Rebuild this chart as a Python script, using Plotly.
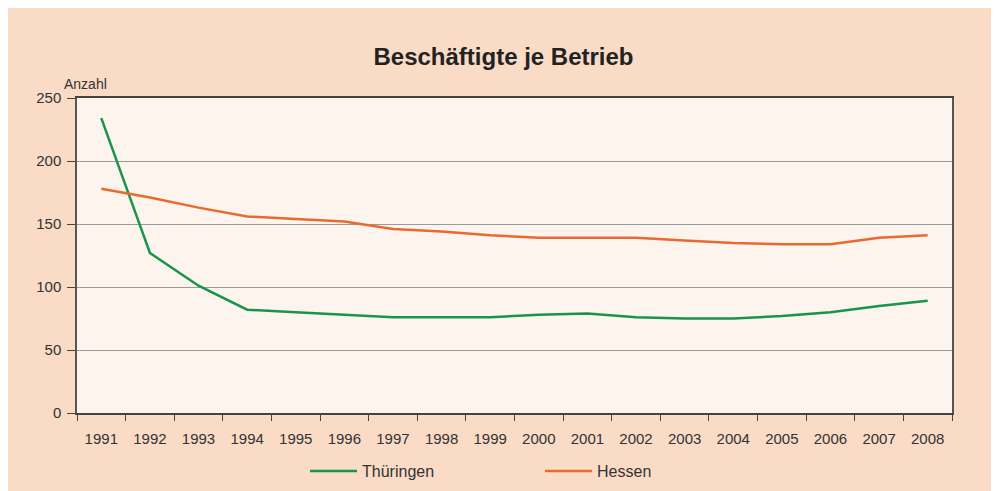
import plotly.graph_objects as go

# Beschäftigte je Betrieb, Thüringen vs. Hessen
years = [str(y) for y in range(1991, 2009)]
thueringen = [234, 127, 101, 82, 80, 78, 76, 76, 76, 78, 79, 76, 75, 75, 77, 80, 85, 89]
hessen = [178, 171, 163, 156, 154, 152, 146, 144, 141, 139, 139, 139, 137, 135, 134, 134, 139, 141]
y_ticks = [0, 50, 100, 150, 200, 250]

PEACH = "#f9dbc6"
PLOT_BG = "#fdf4ee"
GREEN = "#179548"
ORANGE = "#e9692e"

fig = go.Figure()
fig.add_trace(go.Scatter(x=years, y=thueringen, mode="lines", name="Thüringen",
                         line=dict(color=GREEN, width=2.5)))
fig.add_trace(go.Scatter(x=years, y=hessen, mode="lines", name="Hessen",
                         line=dict(color=ORANGE, width=2.5)))

fig.add_annotation(text="Anzahl", xref="paper", yref="paper", x=-0.017, y=1.044,
                   xanchor="left", yanchor="middle", showarrow=False,
                   font=dict(size=14, color="#333333"))

# page body adds ~8px white margin, which gives the white strip like the scan
fig.update_layout(
    width=991, height=483, autosize=False,
    margin=dict(l=69, r=47, t=90, b=78),
    paper_bgcolor=PEACH, plot_bgcolor=PLOT_BG,
    font=dict(family="Liberation Sans, Arial, sans-serif", size=15, color="#333333"),
    title=dict(text="<b>Beschäftigte je Betrieb</b>", x=0.5, xanchor="center",
               y=1 - 49 / 483, yref="container", yanchor="middle",
               font=dict(size=24, color="#222222")),
    showlegend=True,
    legend=dict(orientation="h", x=0.2606, xanchor="left",
                yref="container", y=1 - 463 / 483, yanchor="middle",
                bgcolor="rgba(0,0,0,0)", itemwidth=47, entrywidth=173,
                font=dict(size=16)),
)

fig.update_xaxes(type="category", range=[-0.5, len(years) - 0.5], showline=True,
                 linecolor="#444444", linewidth=1.5, mirror=True, ticks="outside",
                 tickson="boundaries", ticklen=6, tickcolor="#444444", showgrid=False,
                 tickfont=dict(size=15), ticklabelstandoff=11, automargin=False)
fig.update_yaxes(range=[0, 250], tickvals=y_ticks, showline=True, linecolor="#555555",
                 linewidth=1.5, mirror=True, ticks="outside", ticklen=8,
                 tickcolor="#444444", showgrid=True, gridcolor="#9a9a9a", gridwidth=1,
                 zeroline=False, tickfont=dict(size=15), ticklabelstandoff=3,
                 automargin=False)

fig.write_html("out.html")
